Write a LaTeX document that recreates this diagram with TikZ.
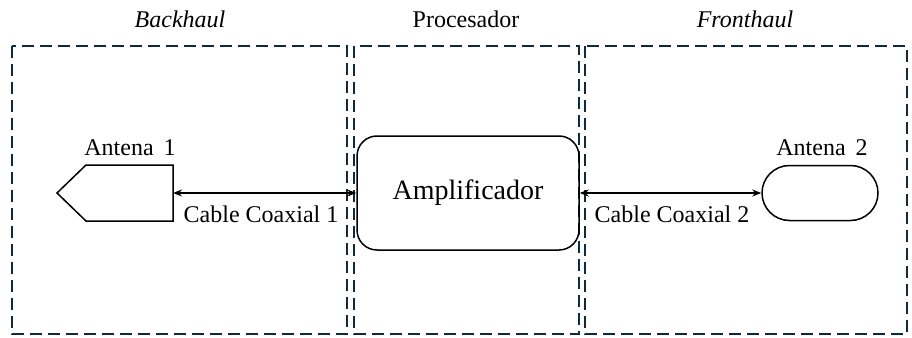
\documentclass[tikz,border=0pt]{standalone}
\usepackage{fontspec}
\setmainfont{Liberation Serif}
\usetikzlibrary{arrows.meta,shapes.geometric,shapes.symbols,shapes.misc}
\definecolor{navy}{HTML}{0E2A3B}
\begin{document}
\begin{tikzpicture}[x=1pt,y=-1pt,
  zone/.style={draw=navy,line width=2pt,dash pattern=on 12pt off 6pt},
  shp/.style={draw=black,line width=1.5pt},
  lbl/.style={font=\fontsize{24}{26}\selectfont,inner sep=0pt},
  ttl/.style={font=\fontsize{24}{26}\selectfont,inner sep=0pt},
  link/.style={line width=1.4pt,{Stealth[length=9pt,width=7pt]}-{Stealth[length=9pt,width=7pt]}}]
\useasboundingbox (0,0) rectangle (912,337);
% zones
\draw[zone] (12,46) rectangle (347,334);
\draw[zone] (354,46) rectangle (579,334);
\draw[zone] (585,46) rectangle (907,334);
% titles
\node[ttl] (tb) at (180,19) {\itshape Backhaul};
\node[ttl] (tp) at (466,19) {Procesador};
\node[ttl] (tf) at (745,19) {\itshape Fronthaul};
% amplifier
\node[shp,rounded corners=20pt,minimum width=222pt,minimum height=114pt,font=\fontsize{28}{30}\selectfont,inner sep=0pt] (amp) at (468,193) {Amplificador};
% antenna 1 (pentagon pointing left)
\draw[shp,line join=miter] (57,193) -- (86,165) -- (173,165) -- (173,221) -- (86,221) -- cycle;
\coordinate (a1) at (173,193);
\node[lbl] (la1) at (130,148) {Antena\hspace{4pt} 1};
% antenna 2 (stadium)
\node[shp,rounded rectangle,minimum width=116pt,minimum height=55pt,inner sep=0pt] (a2) at (820,193) {};
\node[lbl] (la2) at (822,148) {Antena\hspace{4pt} 2};
% links
\draw[link] (a1) -- (amp.west |- a1);
\draw[link] (amp.east |- a2.west) -- (a2.west);
\node[lbl] (c1) at (261,214) {Cable Coaxial 1};
\node[lbl] (c2) at (672,214) {Cable Coaxial 2};
\end{tikzpicture}
\end{document}
